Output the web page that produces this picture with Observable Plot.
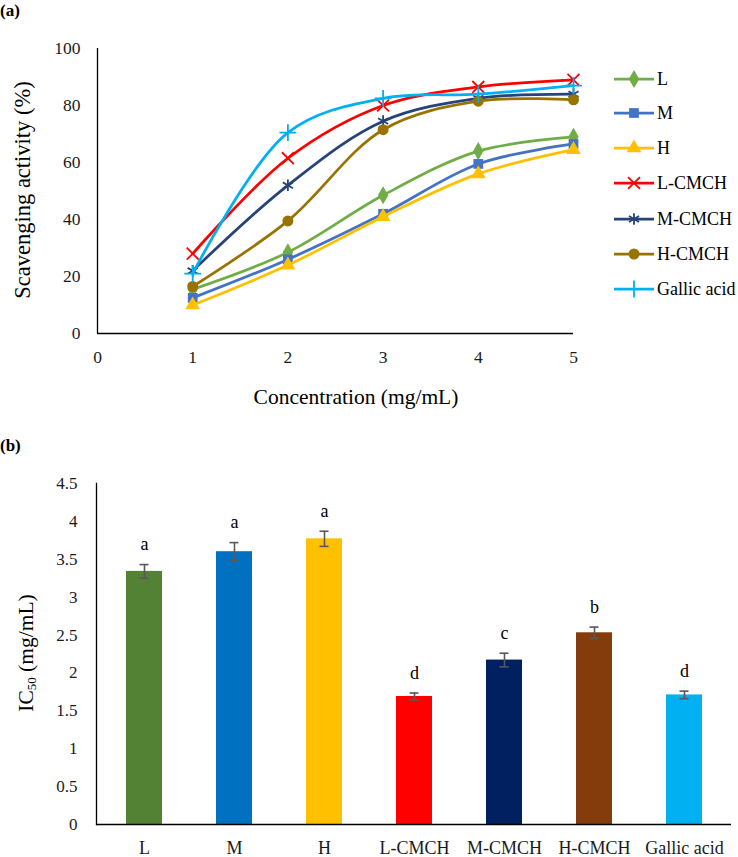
<!DOCTYPE html>
<html><head><meta charset="utf-8">
<script src="https://cdn.jsdelivr.net/npm/d3@7"></script>
<script src="https://cdn.jsdelivr.net/npm/@observablehq/plot@0.6"></script>
<style>
body{margin:0;background:#fff;font-family:"Liberation Serif",serif;}
#page{position:relative;width:738px;height:857px;overflow:hidden;background:#fff;font-family:"Liberation Serif",serif;}
#page *{font-family:"Liberation Serif",serif !important;}
#page svg text{font-family:"Liberation Serif",serif !important;}
.abs{position:absolute;white-space:nowrap;color:#000;line-height:1;}
.rot{transform:translate(-50%,-50%) rotate(-90deg);}
.ctr{transform:translate(-50%,-50%);}
svg{display:block;}
</style></head><body><div id="page"></div>
<script>
// ---------- data: panel (a) ----------
const concentrations = [1, 2, 3, 4, 5];
const seriesNames = ["L", "M", "H", "L-CMCH", "M-CMCH", "H-CMCH", "Gallic acid"];
const valuesL      = [15.5, 28.5, 48.5, 64.0, 69.0];
const valuesM      = [12.5, 26.0, 42.0, 59.5, 66.5];
const valuesH      = [10.0, 24.0, 41.0, 56.0, 64.5];
const valuesLCMCH  = [28.0, 61.5, 80.0, 86.5, 89.0];
const valuesMCMCH  = [22.0, 52.0, 74.5, 82.5, 84.0];
const valuesHCMCH  = [16.5, 39.5, 71.5, 81.5, 82.0];
const valuesGallic = [21.0, 70.5, 82.5, 84.0, 87.0];
const lineColors = ["#70AD47", "#4472C4", "#FFC000", "#FF0000", "#264478", "#997300", "#00B0F0"];
const markerSymbols = ["diamond", "square", "triangle", "times", "asterisk", "circle", "plus"];
const xTicksA = [0, 1, 2, 3, 4, 5];
const yTicksA = [0, 20, 40, 60, 80, 100];

// ---------- data: panel (b) ----------
const ic50Values = [3.34, 3.60, 3.77, 1.69, 2.17, 2.53, 1.71];
const ic50Errors = [0.09, 0.12, 0.10, 0.045, 0.09, 0.075, 0.05];
const sigLetters = ["a", "a", "a", "d", "c", "b", "d"];
const barColors = ["#548235", "#0070C0", "#FFC000", "#FF0000", "#002060", "#843C0C", "#00B0F0"];
const yTicksB = [0, 0.5, 1, 1.5, 2, 2.5, 3, 3.5, 4, 4.5];

const FONT = "Liberation Serif";
const page = document.getElementById("page");
function addText(html, css, cls) {
  const d = document.createElement("div");
  d.className = "abs " + (cls || "");
  d.innerHTML = html;
  Object.assign(d.style, css);
  page.appendChild(d);
  return d;
}
const strokeSyms = new Set(["times", "asterisk", "plus"]);

// ---------- panel (a) ----------
const allSeries = [valuesL, valuesM, valuesH, valuesLCMCH, valuesMCMCH, valuesHCMCH, valuesGallic];
const marksA = [
  Plot.ruleY([0], {stroke: "#000", strokeWidth: 1.3}),
  Plot.ruleX([0], {stroke: "#000", strokeWidth: 1.3}),
  Plot.axisX({ticks: xTicksA, tickSize: 0, tickPadding: 17, fontSize: 17.5, fontFamily: FONT, label: null, tickFormat: d => String(d)}),
  Plot.axisY({ticks: yTicksA, tickSize: 0, tickPadding: 17, fontSize: 17.5, fontFamily: FONT, label: null, tickFormat: d => String(d)})
];
allSeries.forEach((vals, i) => {
  const rows = vals.map((v, j) => ({x: concentrations[j], y: v}));
  marksA.push(Plot.line(rows, {x: "x", y: "y", stroke: lineColors[i], strokeWidth: 2.75, curve: "catmull-rom"}));
  const isStroke = strokeSyms.has(markerSymbols[i]);
  marksA.push(Plot.dot(rows, {
    x: "x", y: "y", symbol: markerSymbols[i], r: 5.5,
    fill: isStroke ? "none" : lineColors[i],
    stroke: isStroke ? lineColors[i] : "none",
    strokeWidth: isStroke ? 1.8 : 0
  }));
});
const chartA = Plot.plot({
  width: 600, height: 420,
  marginLeft: 97, marginRight: 27, marginTop: 48, marginBottom: 87,
  x: {domain: [0, 5]},
  y: {domain: [0, 100]},
  style: {fontFamily: FONT, color: "#1a1a1a", background: "transparent", overflow: "visible"},
  marks: marksA
});
const wrapA = document.createElement("div");
Object.assign(wrapA.style, {position: "absolute", left: "0px", top: "0px"});
wrapA.appendChild(chartA);
page.appendChild(wrapA);

addText("(a)", {left: "0px", top: "10px", fontWeight: "bold", fontSize: "17px", transform: "translateY(-50%)"}, "");
addText("Concentration (mg/mL)", {left: "356px", top: "398px", fontSize: "21.5px"}, "ctr");
addText("Scavenging activity (%)", {left: "23px", top: "190px", fontSize: "22.5px"}, "rot");

// legend (a)
const legendRowY = [79, 113, 148, 183, 219, 254, 289];
const symMap = {diamond: d3.symbolDiamond, square: d3.symbolSquare, triangle: d3.symbolTriangle,
  times: d3.symbolTimes, asterisk: d3.symbolAsterisk, circle: d3.symbolCircle, plus: d3.symbolPlus};
seriesNames.forEach((name, i) => {
  const row = document.createElement("div");
  Object.assign(row.style, {position: "absolute", left: "612px", top: (legendRowY[i] - 11) + "px", height: "22px", display: "flex", alignItems: "center"});
  const svg = d3.create("svg").attr("width", 44).attr("height", 22);
  svg.append("line").attr("x1", 2).attr("x2", 42).attr("y1", 11).attr("y2", 11)
    .attr("stroke", lineColors[i]).attr("stroke-width", 2.75);
  const isStroke = strokeSyms.has(markerSymbols[i]);
  svg.append("path").attr("transform", "translate(22,11)")
    .attr("d", d3.symbol(symMap[markerSymbols[i]], Math.PI * 5.5 * 5.5)())
    .attr("fill", isStroke ? "none" : lineColors[i])
    .attr("stroke", isStroke ? lineColors[i] : "none")
    .attr("stroke-width", isStroke ? 1.8 : 0);
  row.appendChild(svg.node());
  const t = document.createElement("span");
  t.textContent = name;
  Object.assign(t.style, {fontSize: "18px", fontFamily: FONT, marginLeft: "1px", color: "#000", whiteSpace: "nowrap", lineHeight: "1"});
  row.appendChild(t);
  page.appendChild(row);
});

// ---------- panel (b) ----------
const bars = seriesNames.map((n, i) => ({name: n, v: ic50Values[i], e: ic50Errors[i], letter: sigLetters[i], color: barColors[i]}));
const chartB = Plot.plot({
  width: 738, height: 437,
  marginLeft: 96, marginRight: 7, marginTop: 63, marginBottom: 33,
  x: {domain: seriesNames, paddingInner: 0.6, paddingOuter: 0.3},
  y: {domain: [0, 4.5]},
  color: {type: "identity"},
  style: {fontFamily: FONT, color: "#1a1a1a", background: "transparent", overflow: "visible"},
  marks: [
    Plot.barY(bars, {x: "name", y: "v", fill: "color"}),
    Plot.ruleX(bars, {x: "name", y1: d => d.v - d.e, y2: d => d.v + d.e, stroke: "#595959", strokeWidth: 1.6}),
    Plot.tickY(bars, {x: "name", y: d => d.v - d.e, stroke: "#595959", strokeWidth: 1.6, insetLeft: 13.5, insetRight: 13.5}),
    Plot.tickY(bars, {x: "name", y: d => d.v + d.e, stroke: "#595959", strokeWidth: 1.6, insetLeft: 13.5, insetRight: 13.5}),
    Plot.text(bars, {x: "name", y: d => d.v + d.e, text: "letter", dy: -20, fontSize: 18, fontFamily: FONT, fill: "#000"}),
    Plot.frame({anchor: "left", stroke: "#000", strokeWidth: 1.3}),
    Plot.ruleY([0], {stroke: "#000", strokeWidth: 1.3}),
    Plot.axisX({tickSize: 0, tickPadding: 17, fontSize: 18, fontFamily: FONT, label: null}),
    Plot.axisY({ticks: yTicksB, tickSize: 0, tickPadding: 19, fontSize: 17, fontFamily: FONT, label: null, tickFormat: d => String(d)})
  ]
});
const wrapB = document.createElement("div");
Object.assign(wrapB.style, {position: "absolute", left: "0px", top: "420px"});
wrapB.appendChild(chartB);
page.appendChild(wrapB);

addText("(b)", {left: "0px", top: "445px", fontWeight: "bold", fontSize: "17px", transform: "translateY(-50%)"}, "");
addText('IC<sub style="font-size:13px;vertical-align:-3px">50</sub> (mg/mL)', {left: "27px", top: "653px", fontSize: "21.5px"}, "rot");
</script></body></html>
